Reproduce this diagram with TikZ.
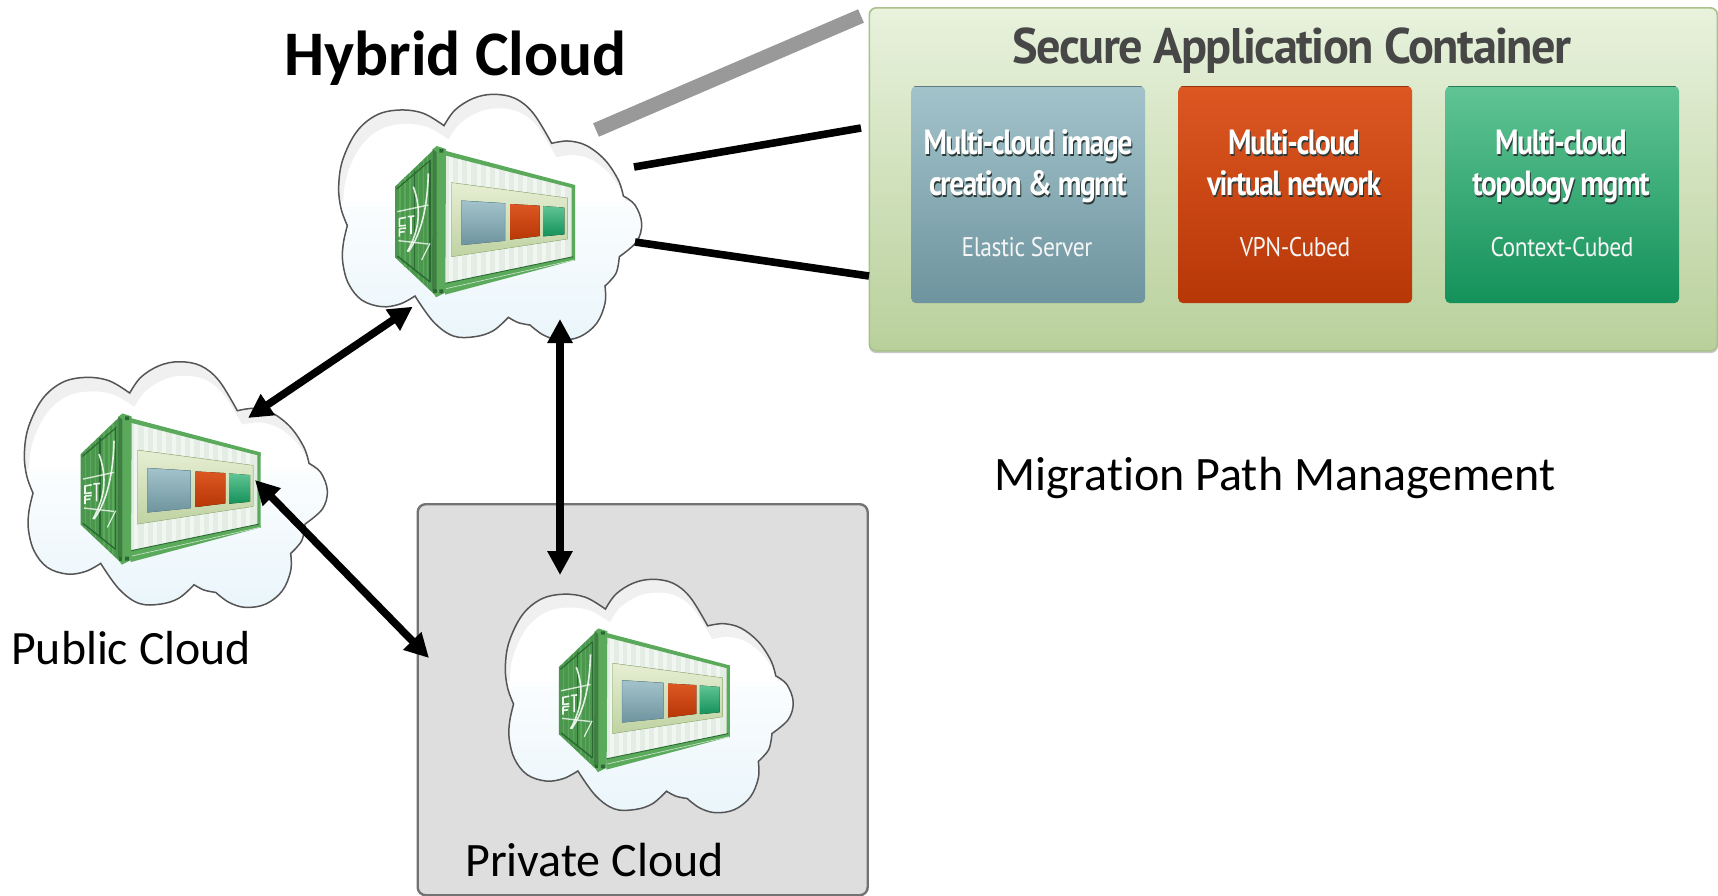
\documentclass[tikz,border=0pt]{standalone}
\usepackage{fontspec}
\usetikzlibrary{arrows.meta}
\setmainfont[Ligatures=NoCommon]{Carlito}
\newfontfamily\boxfont[FakeStretch=0.87,LetterSpace=-1.5]{PT Sans}
\newfontfamily\titlefont[FakeStretch=0.965,LetterSpace=-3]{PT Sans Bold}
\newfontfamily\headfont[FakeStretch=0.84,LetterSpace=-4]{PT Sans Bold}
\definecolor{cgreen}{HTML}{5BAA5C}
\definecolor{cdark}{HTML}{4A974D}
\definecolor{cdeep}{HTML}{2A6A32}
\definecolor{boxshadow}{HTML}{2B3A38}
\newcommand{\softtext}[1]{\leavevmode\rlap{\color{boxshadow}\raisebox{-2pt}{\kern1pt#1}}\color{white}#1\rule[-10pt]{0pt}{10pt}}
\newcommand{\cloudpath}{plot[smooth,tension=.6] coordinates {(372,137)(405,90)(460,55)(520,43)(585,55)(640,100)(695,190)}
 -- plot[smooth,tension=.6] coordinates {(695,190)(745,183)(800,197)(855,240)(895,300)(910,348)}
 -- plot[smooth,tension=.6] coordinates {(910,348)(945,375)(965,430)(950,485)(898,530)}
 -- plot[smooth,tension=.6] coordinates {(898,530)(888,580)(855,618)}
 -- plot[smooth,tension=.6] coordinates {(855,618)(855,670)(830,730)(780,770)(720,780)(670,765)(630,735)}
 -- plot[smooth,tension=.6] coordinates {(630,735)(595,728)(565,712)}
 -- plot[smooth,tension=.6] coordinates {(565,712)(520,752)(465,770)(400,768)(340,725)(285,648)}
 -- plot[smooth,tension=.6] coordinates {(285,648)(240,672)(185,680)(125,660)(85,610)(68,545)(70,490)(82,437)}
 -- plot[smooth,tension=.6] coordinates {(82,437)(63,385)(56,320)(68,240)(110,155)(170,105)(240,90)(310,100)(372,137)} -- cycle}
\newcommand{\cloudicon}[3]{%
\begin{scope}[shift={(#1,#2)},scale=#3/3]
 \begin{scope}
  \clip \cloudpath;
  \fill[white] (0,0) rectangle (1020,850);
  \fill[crescent] (0,0) rectangle (1020,420);
  \begin{scope}[shift={(14,42)}]\fill[white] \cloudpath;\end{scope}
  \fill[top color=cloudlight,bottom color=cloudblue] (0,365) rectangle (1020,800);
 \end{scope}
 \draw[cloudline] \cloudpath;
 % door end
 \fill[cdark] (225,320) -- (345,205) -- (345,645) -- (225,532) -- cycle;
 \foreach \xa/\ya/\yb in {240/306/545,255/292/560,270/278/574,295/255/596,310/240/610,322/229/620}
   {\draw[cgreen,line width=1.1pt] (\xa,\ya) -- (\xa,\yb);}
 \draw[cdeep,line width=1.2pt] (230,327) -- (332,240);
 \draw[cdeep,line width=1.4pt] (232,528) -- (330,606);
 \draw[cdeep,line width=1.2pt] (283,272) -- (283,570);
 \draw[cdeep,line width=1.2pt] (330,240) -- (330,606);
 \draw[white,opacity=.85,line width=1.6pt] (280,320) .. controls (305,390) and (298,450) .. (262,515);
 \draw[white,opacity=.85,line width=1.6pt] (325,280) .. controls (322,380) and (305,460) .. (265,515);
 \draw[white,opacity=.85,line width=1.2pt] (330,490) -- (305,540);
 \draw[white,opacity=.75,line width=1.4pt] (232,395) -- (325,375) (235,482) -- (325,492);
 \draw[white,opacity=.9,line width=1.6pt]
   (258,412) -- (238,416) -- (238,438) -- (258,436)
   (238,446) -- (238,470) (238,446) -- (258,444) (238,457) -- (254,455)
   (263,410) -- (283,408) (273,409) -- (273,462);
 % long side
 \fill[sidewall] (375,222) -- (760,318) -- (760,530) -- (375,610) -- cycle;
 \begin{scope}
  \clip (375,222) -- (760,318) -- (760,530) -- (375,610) -- cycle;
  \foreach \xa in {392,420,448,476,504,532,560,588,616,644,672,700,728}
    {\draw[white,line width=4pt,opacity=.55] (\xa,200) -- (\xa,640);}
 \end{scope}
 \fill[cgreen] (375,212) -- (765,315) -- (765,326) -- (375,226) -- cycle;
 \fill[cgreen] (755,318) -- (765,316) -- (765,542) -- (755,535) -- cycle;
 \fill[cgreen] (375,610) -- (762,530) -- (765,540) -- (375,644) -- cycle;
 \draw[cdeep,line width=.9pt] (375,610) -- (760,530);
 \draw[white,opacity=.7,line width=.6pt] (378,626) -- (762,540);
 % corner post
 \fill[cgreen] (338,208) -- (350,198) -- (378,207) -- (376,638) -- (348,652) -- (336,632) -- cycle;
 \fill[cdark!85!black] (338,208) -- (350,216) -- (350,630) -- (336,632) -- cycle;
 \fill[cdeep] (358,207) rectangle (370,218) (358,628) rectangle (370,640);
 \fill[cdeep] (340,628) rectangle (350,640);
 % panel on the side
 \fill[top color=panellight,bottom color=paneldark,draw=panelline,line width=.5pt]
   (395,308) -- (742,354) -- (742,477) -- (395,530) -- cycle;
 \fill[top color=blueA,bottom color=blueB,draw=blueB,line width=.4pt]
   (425,362) -- (555,370) -- (555,482) -- (425,495) -- cycle;
 \fill[top color=redA,bottom color=redB]
   (570,372) -- (659,377) -- (659,468) -- (570,479) -- cycle;
 \fill[top color=grnA,bottom color=grnB]
   (670,378) -- (733,383) -- (733,463) -- (670,469) -- cycle;
\end{scope}}
\tikzset{
 crescent/.style={fill=cloudgrey},
 cloudline/.style={draw=cloudedge,line width=1.5pt,line join=miter},
 sidewall/.style={fill=sidegrey},
 tick/.style={line width=7.6pt,black,line cap=butt},
 migr/.style={line width=7.6pt,black,{Triangle[length=24pt,width=24pt]}-{Triangle[length=24pt,width=24pt]}},
 lbl/.style={inner sep=0pt,anchor=base west,text=black},
 panelbox/.style={rounded corners=5pt,minimum width=234pt,minimum height=217pt,inner sep=0pt,anchor=north west},
 subtxt/.style={inner sep=0pt,anchor=base,font=\boxfont\fontsize{27}{27}\selectfont,text=white!92!gray},
 headtxt/.style={inner sep=0pt,anchor=south,align=center,font=\headfont\fontsize{35}{41}\selectfont},
}
\definecolor{cloudgrey}{HTML}{F0F0F0}
\definecolor{cloudlight}{HTML}{FBFDFE}
\definecolor{cloudblue}{HTML}{E9F5FB}
\definecolor{cloudedge}{HTML}{555555}
\definecolor{sidegrey}{HTML}{E3EDE3}
\definecolor{panellight}{HTML}{E6EED3}
\definecolor{paneldark}{HTML}{BFD3A2}
\definecolor{panelline}{HTML}{A8C28A}
\definecolor{blueA}{HTML}{A3C3CB}
\definecolor{blueB}{HTML}{6E949F}
\definecolor{redA}{HTML}{DC5722}
\definecolor{redB}{HTML}{B83707}
\definecolor{grnA}{HTML}{60C494}
\definecolor{grnB}{HTML}{14915A}
\definecolor{outerA}{HTML}{E8F2DD}
\definecolor{outerB}{HTML}{B9D09B}
\begin{document}
\begin{tikzpicture}[x=1pt,y=-1pt]
\useasboundingbox (0,0) rectangle (1718,895);
\fill[white] (0,0) rectangle (1718,895);

% private cloud frame
\node[draw=black!55,fill=black!13,line width=2.4pt,rounded corners=8pt,inner sep=0pt,
  minimum width=450pt,minimum height=391pt,anchor=north west] (frame) at (416.5,503) {};

% secure application container
\fill[black!22,rounded corners=7pt] (869,9) rectangle (1718,353);
\node[draw=panelline,line width=1.6pt,top color=outerA,bottom color=outerB,rounded corners=7pt,
  inner sep=0pt,minimum width=848pt,minimum height=343pt,anchor=north west] (sac) at (868.5,7) {};
\node[inner sep=0pt,anchor=base,text=black!72,font=\titlefont\fontsize{50}{50}\selectfont] (sactitle) at (1292,63)
  {Secure Application Container};
\node[panelbox,top color=blueA,bottom color=blueB] (bluebox) at (911,86) {};
\node[panelbox,top color=redA,bottom color=redB] (redbox) at (1178,86) {};
\node[panelbox,top color=grnA,bottom color=grnB] (grnbox) at (1445,86) {};
\foreach \b/\c in {bluebox/blueB,redbox/redB,grnbox/grnB}
  {\draw[\c!65!black,line width=1.5pt,opacity=.7] ([xshift=3pt,yshift=-.5pt]\b.north west) -- ([xshift=-3pt,yshift=-.5pt]\b.north east);}
\node[headtxt] (bluehead) at (1028,206) {\softtext{Multi-cloud image}\\\softtext{creation \& mgmt}};
\node[headtxt] (redhead) at (1294,206) {\softtext{Multi-cloud}\\\softtext{virtual network}};
\node[headtxt] (grnhead) at (1561,206) {\softtext{Multi-cloud}\\\softtext{topology mgmt}};
\node[subtxt] (bluesub) at (1027,256) {Elastic Server};
\node[subtxt] (redsub) at (1295,256) {VPN-Cubed};
\node[subtxt] (grnsub) at (1562,256) {Context-Cubed};

% clouds
\cloudicon{320}{80}{1}
\cloudicon{5.7}{347.4}{1}
\cloudicon{487.6}{565.7}{.95}

% link anchors
\coordinate (hybA) at (596,130);
\coordinate (sacA) at (861,16);
\coordinate (hybB) at (634,167);
\coordinate (sacB) at (861,128);
\coordinate (hybC) at (635,242);
\coordinate (sacC) at (869,276);
\coordinate (hybL) at (412.7,306.7);
\coordinate (pubT) at (248,418);
\coordinate (pubR) at (255,480);
\coordinate (priL) at (429,658);
\coordinate (hybS) at (560,319);
\coordinate (priT) at (560,575);

\draw[line width=14.6pt,black!40] (hybA) -- (sacA);
\draw[tick] (hybB) -- (sacB);
\draw[tick] (hybC) -- (sacC);
\draw[migr] (hybL) -- (pubT);
\draw[migr] (pubR) -- (priL);
\draw[migr] (hybS) -- (priT);

\node[lbl,font=\bfseries\fontsize{63.5}{63.5}\selectfont] (hybridlbl) at (284,75) {Hybrid Cloud};
\node[lbl,font=\fontsize{47.8}{48}\selectfont] (publiclbl) at (11,664) {Public Cloud};
\node[lbl,font=\fontsize{48}{48}\selectfont] (privatelbl) at (465,876) {Private Cloud};
\node[lbl,font=\fontsize{48}{48}\selectfont] (migrlbl) at (994,490) {Migration Path Management};
\end{tikzpicture}
\end{document}
